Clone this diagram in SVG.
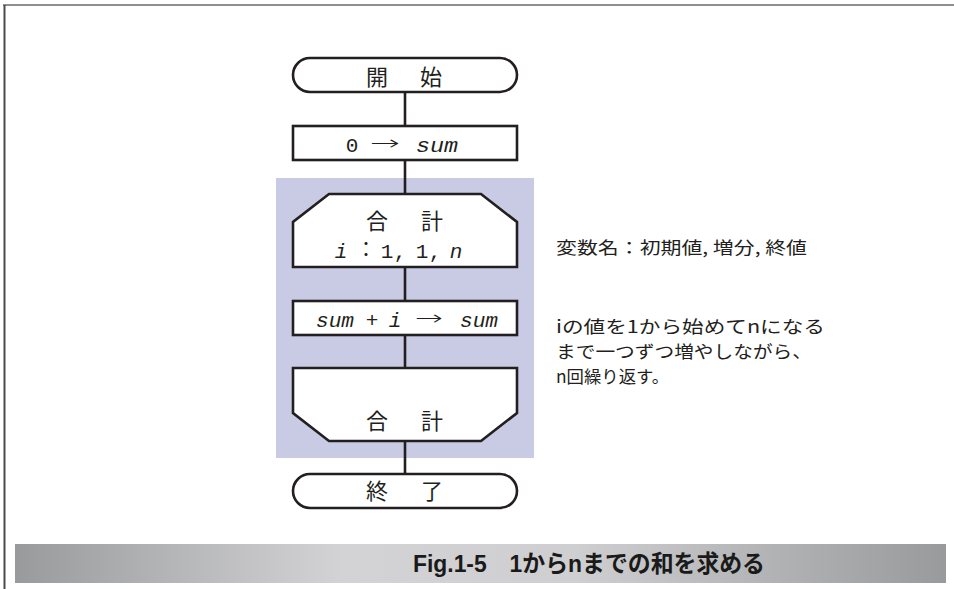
<svg xmlns="http://www.w3.org/2000/svg" width="954" height="589" viewBox="0 0 954 589">
<defs>
<linearGradient id="bar" x1="0" y1="0" x2="1" y2="0">
<stop offset="0" stop-color="#999a9c"/>
<stop offset="0.35" stop-color="#d3d3d5"/>
<stop offset="0.6" stop-color="#cfcfd1"/>
<stop offset="1" stop-color="#999a9c"/>
</linearGradient>
</defs>
<style>
.shape{fill:#ffffff;stroke:#231f20;stroke-width:2.6;stroke-linejoin:miter}
.conn{stroke:#231f20;stroke-width:2.6;fill:none}
.jp{font-family:"Noto Sans CJK JP","Noto Sans",sans-serif;font-size:22px;fill:#231f20;text-anchor:middle}
.mono{font-family:"Liberation Mono","DejaVu Sans Mono",monospace;font-size:21px;fill:#231f20;text-anchor:middle}
.arrow{font-family:"DejaVu Sans",sans-serif;font-weight:200;font-size:20px;fill:#231f20}
.it{font-style:italic}
.note{font-family:"Noto Sans CJK JP","Noto Sans",sans-serif;font-size:17.5px;fill:#231f20}
.cap{font-family:"Liberation Sans","Noto Sans CJK JP",sans-serif;font-weight:bold;font-size:24px;fill:#1a1a1a}
</style>
<rect x="0" y="0" width="954" height="589" fill="#ffffff"/>
<line x1="3" y1="5" x2="954" y2="5" stroke="#6a6a6a" stroke-width="1.6"/>
<line x1="4.5" y1="5" x2="4.5" y2="589" stroke="#4a4a4a" stroke-width="2"/>
<rect id="loop-area" x="276" y="178" width="258" height="280" fill="#c9cbe5"/>
<g id="connectors">
<line class="conn" x1="405" y1="92" x2="405" y2="126"/>
<line class="conn" x1="405" y1="160" x2="405" y2="194"/>
<line class="conn" x1="405" y1="267" x2="405" y2="301"/>
<line class="conn" x1="405" y1="335" x2="405" y2="368"/>
<line class="conn" x1="405" y1="441" x2="405" y2="474"/>
</g>
<g id="start">
<rect class="shape" x="293" y="58" width="224" height="34" rx="17" ry="17"/>
<text class="jp" x="377" y="85">開</text>
<text class="jp" x="431" y="85">始</text>
</g>
<g id="init">
<rect class="shape" x="293" y="126" width="224" height="34"/>
<text class="mono" x="352" y="152">0</text>
<text class="arrow" x="370" y="150" textLength="30" lengthAdjust="spacingAndGlyphs">→</text>
<text class="mono it" x="437" y="152" textLength="42" lengthAdjust="spacingAndGlyphs">sum</text>
</g>
<g id="loop-start">
<polygon class="shape" points="329,194 481,194 517,222 517,267 293,267 293,222"/>
<text class="jp" x="377" y="229">合</text>
<text class="jp" x="432" y="229">計</text>
<text class="mono it" x="341" y="258">i</text>
<text class="jp" x="366" y="257" style="font-size:20px">：</text>
<text class="mono" x="387" y="258">1</text>
<text class="mono" x="400" y="258">,</text>
<text class="mono" x="422" y="258">1</text>
<text class="mono" x="435" y="258">,</text>
<text class="mono it" x="456" y="258">n</text>
</g>
<g id="add">
<rect class="shape" x="293" y="301" width="224" height="34"/>
<text class="mono it" x="335" y="327" textLength="38" lengthAdjust="spacingAndGlyphs">sum</text>
<text class="mono" x="372" y="327">+</text>
<text class="mono it" x="395" y="327">i</text>
<text class="arrow" x="415" y="325" textLength="28" lengthAdjust="spacingAndGlyphs">→</text>
<text class="mono it" x="479" y="327" textLength="38" lengthAdjust="spacingAndGlyphs">sum</text>
</g>
<g id="loop-end">
<polygon class="shape" points="293,368 517,368 517,413 481,441 329,441 293,413"/>
<text class="jp" x="377" y="429">合</text>
<text class="jp" x="432" y="429">計</text>
</g>
<g id="end">
<rect class="shape" x="293" y="474" width="224" height="34" rx="17" ry="17"/>
<text class="jp" x="377" y="499">終</text>
<text class="jp" x="432" y="499">了</text>
</g>
<g id="notes">
<text class="note" x="556" y="254" textLength="251" lengthAdjust="spacingAndGlyphs">変数名：初期値, 増分, 終値</text>
<text class="note" x="556" y="333" textLength="269" lengthAdjust="spacingAndGlyphs">iの値を1から始めてnになる</text>
<text class="note" x="556" y="358" textLength="256" lengthAdjust="spacingAndGlyphs">まで一つずつ増やしながら、</text>
<text class="note" x="556" y="383" textLength="113" lengthAdjust="spacingAndGlyphs">n回繰り返す。</text>
</g>
<g id="caption">
<rect x="15" y="544" width="931" height="39" fill="url(#bar)"/>
<text class="cap" x="413" y="572" textLength="352" lengthAdjust="spacingAndGlyphs">Fig.1-5　1からnまでの和を求める</text>
</g>
</svg>
